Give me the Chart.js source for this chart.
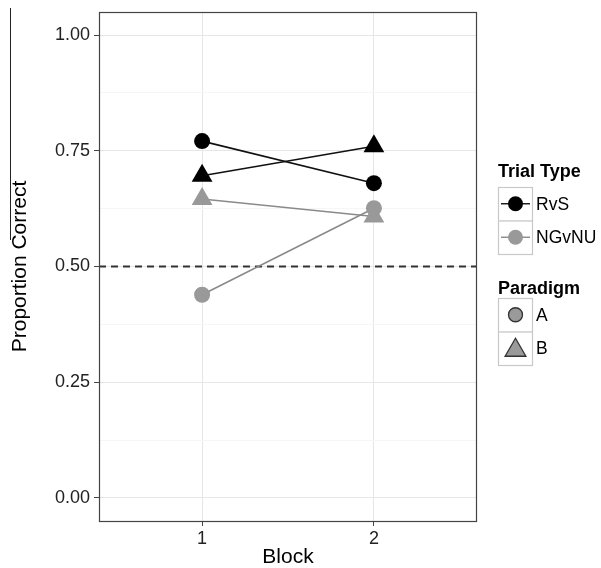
<!DOCTYPE html>
<html>
<head>
<meta charset="utf-8">
<script src="https://cdn.jsdelivr.net/npm/chart.js@4"></script>
<style>
html,body{margin:0;padding:0;background:#fff;}
#wrap{position:relative;width:601px;height:568px;}
#stray{position:absolute;left:10px;top:8px;width:0;height:232px;border-left:1px solid #222;}
</style>
</head>
<body>
<div id="wrap"><canvas id="c" width="601" height="568"></canvas><div id="stray"></div></div>
<script>
// ---- data ----
const blocks = [1, 2];
const blockLabels = ['1', '2'];
const yTicks = [0, 0.25, 0.5, 0.75, 1.0];
const trialTypes = ['RvS', 'NGvNU'];
const paradigms = ['A', 'B'];
const rvsA = [0.771, 0.680];
const rvsB = [0.696, 0.760];
const ngvnuA = [0.439, 0.626];
const ngvnuB = [0.646, 0.608];
const chanceLevel = 0.5;

const trialColors = {RvS: '#000000', NGvNU: '#999999'};
const trialLineColors = {RvS: '#111111', NGvNU: '#8a8a8a'};
const shapeStyle = {A: {style: 'circle', r: 8}, B: {style: 'triangle', r: 12}};

function mk(trial, par, vals) {
  return {
    label: trial + ' ' + par,
    data: blocks.map((b, i) => ({x: b, y: vals[i]})),
    borderColor: trialLineColors[trial],
    backgroundColor: trialColors[trial],
    pointBackgroundColor: trialColors[trial],
    pointBorderColor: trialColors[trial],
    pointBorderWidth: 0,
    pointStyle: shapeStyle[par].style,
    pointRadius: shapeStyle[par].r,
    pointHoverRadius: shapeStyle[par].r,
    borderWidth: 1.6,
    showLine: true,
    tension: 0
  };
}
const datasets = [
  mk('NGvNU', 'A', ngvnuA),
  mk('NGvNU', 'B', ngvnuB),
  mk('RvS', 'A', rvsA),
  mk('RvS', 'B', rvsB)
];

const FONT = '"Liberation Sans", Arial, Helvetica, sans-serif';

// minor ticks (gridlines only)
const allY = [];
for (let i = 0; i < yTicks.length; i++) {
  allY.push({value: yTicks[i], major: true});
  if (i < yTicks.length - 1) allY.push({value: (yTicks[i] + yTicks[i + 1]) / 2, major: false});
}

const decor = {
  id: 'decor',
  beforeDatasetsDraw(chart) {
    const {ctx, chartArea: a, scales} = chart;
    const y = scales.y.getPixelForValue(chanceLevel);
    ctx.save();
    ctx.beginPath();
    ctx.rect(a.left, a.top, a.right - a.left, a.bottom - a.top);
    ctx.clip();
    ctx.strokeStyle = '#333';
    ctx.lineWidth = 1.8;
    ctx.setLineDash([7, 5]);
    ctx.beginPath();
    ctx.moveTo(a.left, y);
    ctx.lineTo(a.right, y);
    ctx.stroke();
    ctx.restore();
  },
  afterDraw(chart) {
    const {ctx, chartArea: a} = chart;
    ctx.save();
    ctx.strokeStyle = '#444';
    ctx.lineWidth = 1.2;
    ctx.strokeRect(a.left + 0.5, a.top + 0.5, a.right - a.left - 1, a.bottom - a.top);
    // legends
    const lx = 498, kw = 34, kh = 33.5;
    ctx.fillStyle = '#000';
    ctx.textBaseline = 'middle';
    ctx.textAlign = 'left';
    ctx.font = 'bold 18px ' + FONT;
    ctx.fillText('Trial Type', lx, 172);
    let top = 187;
    ctx.font = '17.5px ' + FONT;
    trialTypes.forEach((t, i) => {
      const y0 = top + i * kh;
      ctx.fillStyle = '#fff';
      ctx.fillRect(lx, y0, kw, kh);
      ctx.strokeStyle = '#c8c8c8';
      ctx.lineWidth = 1.2;
      ctx.strokeRect(lx + 0.5, y0 + 0.5, kw, kh);
      const cy = y0 + kh / 2, cx = lx + kw / 2 + 0.5;
      ctx.strokeStyle = trialLineColors[t];
      ctx.lineWidth = 1.4;
      ctx.beginPath(); ctx.moveTo(lx + 3, cy); ctx.lineTo(lx + kw - 2, cy); ctx.stroke();
      ctx.fillStyle = trialColors[t];
      ctx.beginPath(); ctx.arc(cx, cy, 7.5, 0, Math.PI * 2); ctx.fill();
      ctx.fillStyle = '#000';
      ctx.fillText(t, lx + kw + 4, cy + 1);
    });
    ctx.font = 'bold 18px ' + FONT;
    ctx.fillText('Paradigm', lx, 289);
    top = 298;
    ctx.font = '17.5px ' + FONT;
    paradigms.forEach((p, i) => {
      const y0 = top + i * kh;
      ctx.fillStyle = '#fff';
      ctx.fillRect(lx, y0, kw, kh);
      ctx.strokeStyle = '#c8c8c8';
      ctx.lineWidth = 1.2;
      ctx.strokeRect(lx + 0.5, y0 + 0.5, kw, kh);
      const cy = y0 + kh / 2, cx = lx + kw / 2 + 0.5;
      ctx.fillStyle = '#9a9a9a';
      ctx.strokeStyle = '#333';
      ctx.lineWidth = 1.3;
      if (shapeStyle[p].style === 'circle') {
        ctx.beginPath(); ctx.arc(cx, cy, 7, 0, Math.PI * 2); ctx.fill(); ctx.stroke();
      } else {
        const r = 12, cyy = cy + 2;
        ctx.beginPath();
        for (let k = 0; k < 3; k++) {
          const ang = k * 2 * Math.PI / 3;
          const px = cx + Math.sin(ang) * r, py = cyy - Math.cos(ang) * r;
          k === 0 ? ctx.moveTo(px, py) : ctx.lineTo(px, py);
        }
        ctx.closePath(); ctx.fill(); ctx.stroke();
      }
      ctx.fillStyle = '#000';
      ctx.fillText(p, lx + kw + 4, cy + 1);
    });
    ctx.restore();
  }
};

new Chart(document.getElementById('c'), {
  type: 'scatter',
  data: {datasets},
  options: {
    responsive: false,
    animation: false,
    events: [],
    layout: {padding: {left: 0, right: 124, top: 10, bottom: 0}},
    plugins: {legend: {display: false}, tooltip: {enabled: false}},
    scales: {
      x: {
        type: 'linear',
        min: 0.4, max: 2.6,
        afterBuildTicks: s => { s.ticks = blocks.map(v => ({value: v})); },
        afterFit: s => { s.height = 47; s.paddingLeft = 0; s.paddingRight = 0; },
        ticks: {
          callback: (v) => blockLabels[blocks.indexOf(v)],
          color: '#222', font: {family: FONT, size: 18}, padding: 2, maxRotation: 0
        },
        grid: {color: '#e6e6e6', lineWidth: 1, tickLength: 5, tickColor: '#444', drawTicks: true},
        border: {display: false},
        title: {display: true, text: 'Block', color: '#000', font: {family: FONT, size: 21, lineHeight: 1.0}, padding: {top: 0, bottom: 0}}
      },
      y: {
        min: -0.05, max: 1.05,
        afterBuildTicks: s => { s.ticks = allY.map(t => ({value: t.value, major: t.major})); },
        afterFit: s => { s.width = 99; s.paddingTop = 0; s.paddingBottom = 0; },
        ticks: {
          callback: (v) => yTicks.includes(v) ? v.toFixed(2) : '',
          color: '#222', font: {family: FONT, size: 18}, padding: 4
        },
        grid: {
          color: c => (c.tick && c.tick.major) ? '#e6e6e6' : '#f6f6f6',
          lineWidth: 1, tickLength: 5,
          tickColor: c => (c.tick && c.tick.major) ? '#444' : 'rgba(0,0,0,0)'
        },
        border: {display: false},
        title: {display: true, text: 'Proportion Correct', color: '#000', font: {family: FONT, size: 21, lineHeight: 1.0}, padding: {top: 10, bottom: 0}}
      }
    }
  },
  plugins: [decor]
});
</script>
</body>
</html>
